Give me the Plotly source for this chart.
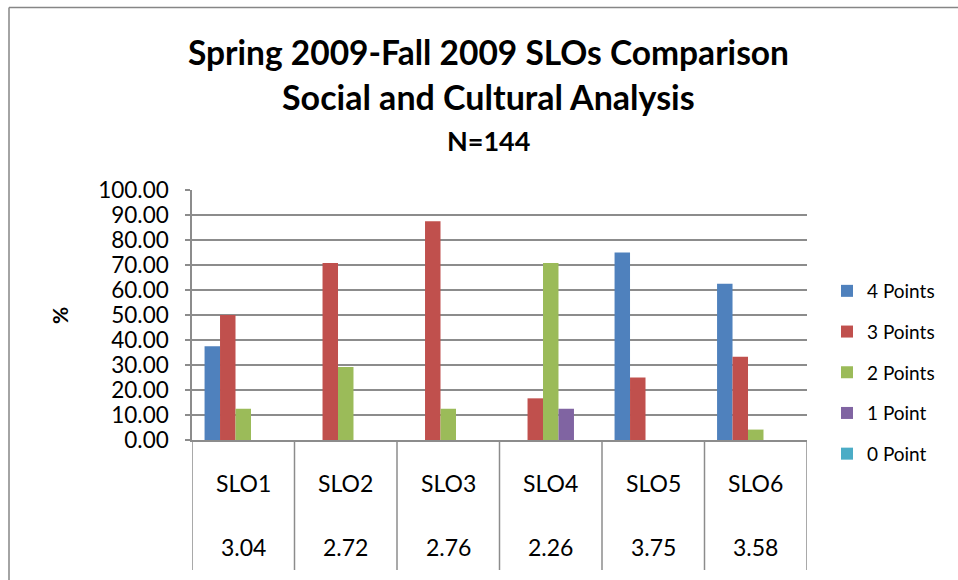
import plotly.graph_objects as go

categories = ["SLO1", "SLO2", "SLO3", "SLO4", "SLO5", "SLO6"]
averages = ["3.04", "2.72", "2.76", "2.26", "3.75", "3.58"]
pts4 = [37.50, 0.00, 0.00, 0.00, 75.00, 62.50]
pts3 = [50.00, 70.83, 87.50, 16.67, 25.00, 33.33]
pts2 = [12.50, 29.17, 12.50, 70.83, 0.00, 4.17]
pts1 = [0.00, 0.00, 0.00, 12.50, 0.00, 0.00]
pts0 = [0.00, 0.00, 0.00, 0.00, 0.00, 0.00]

series = [
    ("4 Points", pts4, "#4F81BD"),
    ("3 Points", pts3, "#C0504D"),
    ("2 Points", pts2, "#9BBB59"),
    ("1 Point", pts1, "#8064A2"),
    ("0 Point", pts0, "#4BACC6"),
]

FONT = "Lato"
fig = go.Figure()
xidx = list(range(len(categories)))
for i, (name, vals, col) in enumerate(series):
    fig.add_trace(go.Bar(x=xidx, y=vals, name=name, marker_color=col,
                         marker_line_width=0, legendgroup=str(i)))

# body margin is removed by post_script, so figure pixels == screen pixels
W, H = 958, 580
L, R, T, B = 192, 151, 190, 140
pw, ph = W - L - R, H - T - B

def py(pix):
    return (H - B - pix) / ph

def px(pix):
    return (pix - L) / pw

GRID = "#8C8C8C"
shapes = []
for k in range(len(categories) + 1):
    shapes.append(dict(type="line", xref="x", yref="paper", x0=k - 0.5, x1=k - 0.5,
                       y0=0, y1=py(570), line=dict(color=GRID, width=1.5)))
# outer chart border (left and top edges visible)
shapes.append(dict(type="line", xref="paper", yref="paper", x0=px(9), x1=px(9),
                   y0=py(7.5), y1=py(640), line=dict(color="#868686", width=1.5)))
shapes.append(dict(type="line", xref="paper", yref="paper", x0=px(9), x1=px(1000),
                   y0=py(7.5), y1=py(7.5), line=dict(color="#868686", width=1.5)))

ann = []
for k, c in enumerate(categories):
    ann.append(dict(x=k, y=py(483), xref="x", yref="paper", text=c, showarrow=False,
                    xanchor="center", yanchor="middle",
                    font=dict(family=FONT, size=23, color="black")))
    ann.append(dict(x=k, y=py(547), xref="x", yref="paper", text=averages[k], showarrow=False,
                    xanchor="center", yanchor="middle",
                    font=dict(family=FONT, size=23, color="black")))
titles = [("Spring 2009-Fall 2009 SLOs Comparison", 52, 33.5),
          ("Social and Cultural Analysis", 97, 34),
          ("N=144", 140, 27)]
for t, yy, fs in titles:
    ann.append(dict(x=px(488), y=py(yy), xref="paper", yref="paper", text="<b>%s</b>" % t,
                    showarrow=False, xanchor="center", yanchor="middle",
                    font=dict(family=FONT, size=fs, color="black")))
ann.append(dict(x=px(59), y=py(316), xref="paper", yref="paper", text="<b>%</b>",
                textangle=-90, showarrow=False, xanchor="center", yanchor="middle",
                font=dict(family=FONT, size=21, color="black")))

fig.update_layout(
    width=W, height=H,
    margin=dict(l=L, r=R, t=T, b=B, pad=0),
    paper_bgcolor="white", plot_bgcolor="white",
    barmode="group", bargap=0.245, bargroupgap=0,
    showlegend=True,
    legend=dict(x=px(827), y=py(372.5), xanchor="left", yanchor="middle",
                font=dict(family=FONT, size=19, color="black"),
                tracegroupgap=13, traceorder="grouped"),
    xaxis=dict(range=[-0.5, 5.5], showticklabels=False, showgrid=False,
               showline=True, linecolor=GRID, linewidth=1.5, zeroline=False,
               fixedrange=True),
    yaxis=dict(range=[0, 100], dtick=10, tickformat=".2f", showgrid=True,
               gridcolor=GRID, gridwidth=1.5, showline=True, linecolor=GRID,
               linewidth=1.5, ticks="outside", ticklen=5, tickcolor=GRID,
               tickwidth=1.5, zeroline=False, ticklabelstandoff=12,
               tickfont=dict(family=FONT, size=22.5, color="black")),
    shapes=shapes, annotations=ann,
)
fig.write_html("out.html", config={"displayModeBar": False},
               post_script="document.body.style.margin='0';document.body.style.overflow='hidden';")
